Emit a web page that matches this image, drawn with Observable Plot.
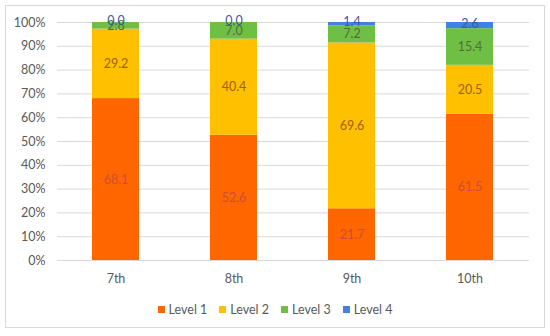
<!DOCTYPE html>
<html>
<head>
<meta charset="utf-8">
<script src="https://cdn.jsdelivr.net/npm/d3@7"></script>
<script src="https://cdn.jsdelivr.net/npm/@observablehq/plot@0.6"></script>
<style>
  html, body { margin: 0; padding: 0; background: #fff; }
  #frame { position: absolute; left: 5px; top: 5px; width: 540px; height: 323px; border: 1px solid #d9d9d9; box-sizing: border-box; font-family: Lato, "Open Sans", sans-serif; }
  #legend { position: absolute; left: 0; right: 0; top: 296px; display: flex; justify-content: center; gap: 12px; font-size: 12.5px; color: #595959; }
  #legend span.item { display: inline-flex; align-items: center; }
  #legend i { display: inline-block; width: 7px; height: 7px; margin-right: 4px; }
</style>
</head>
<body>
<div id="frame"><div id="chart"></div><div id="legend"></div></div>
<script>
const categories = ["7th", "8th", "9th", "10th"];
const levels = ["Level 1", "Level 2", "Level 3", "Level 4"];
const level1 = [68.1, 52.6, 21.7, 61.5];
const level2 = [29.2, 40.4, 69.6, 20.5];
const level3 = [2.8, 7.0, 7.2, 15.4];
const level4 = [0.0, 0.0, 1.4, 2.6];
const yTicks = [0, 0.1, 0.2, 0.3, 0.4, 0.5, 0.6, 0.7, 0.8, 0.9, 1.0];

const colors = ["#FF6600", "#FFC000", "#70BF45", "#3E82E2"];
const labelColors = ["#C8503A", "#A0601A", "#4E6E3A", "#3A5C9A"];

const series = [level1, level2, level3, level4];
const data = [];
categories.forEach((c, i) => {
  levels.forEach((l, j) => data.push({grade: c, level: l, value: series[j][i]}));
});

// label midpoints (normalized share) computed from the values
const labels = [];
categories.forEach((c, i) => {
  const total = d3.sum(series, s => s[i]);
  let cum = 0;
  levels.forEach((l, j) => {
    const v = series[j][i];
    labels.push({grade: c, level: l, value: v, mid: (cum + v / 2) / total});
    cum += v;
  });
});

const textMarks = levels.map((l, j) => Plot.text(labels.filter(d => d.level === l), {
  x: "grade", y: "mid", text: d => d.value.toFixed(1), fill: labelColors[j], fontSize: 12.5,
  dy: j === 3 ? -2 : 0
}));

const chart = Plot.plot({
  width: 538,
  height: 290,
  marginLeft: 51,
  marginRight: 15,
  marginTop: 16,
  marginBottom: 36,
  style: {fontFamily: "Lato, 'Open Sans', sans-serif", fontSize: "12.5px", color: "#595959", background: "transparent"},
  x: {domain: categories, paddingInner: 0.6, paddingOuter: 0.3, label: null, tickSize: 0, tickPadding: 14},
  y: {domain: [0, 1], ticks: yTicks, tickFormat: d3.format(".0%"), label: null, tickSize: 0, tickPadding: 12},
  color: {domain: levels, range: colors},
  marks: [
    Plot.ruleY(yTicks, {stroke: "#d9d9d9", strokeWidth: 1}),
    Plot.barY(data, Plot.stackY({offset: "normalize", x: "grade", y: "value", fill: "level"})),
    ...textMarks
  ]
});
document.getElementById("chart").appendChild(chart);

const legend = document.getElementById("legend");
levels.forEach((l, j) => {
  const s = document.createElement("span");
  s.className = "item";
  s.innerHTML = `<i style="background:${colors[j]}"></i>${l}`;
  legend.appendChild(s);
});
</script>
</body>
</html>
